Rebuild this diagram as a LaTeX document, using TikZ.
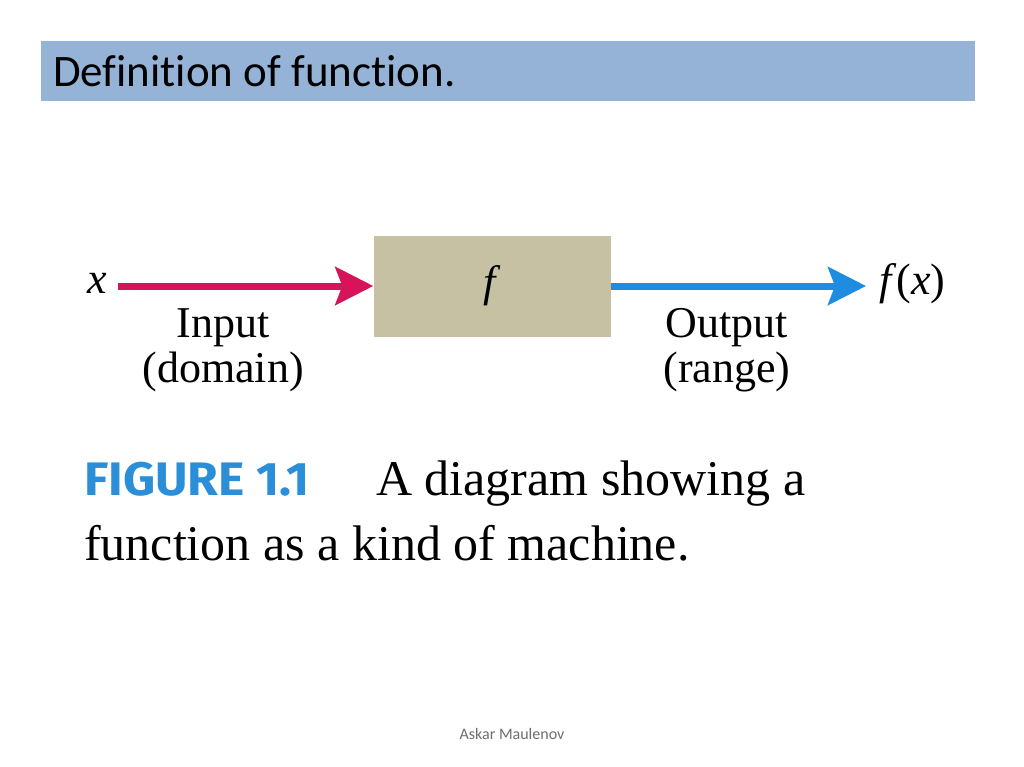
\documentclass[tikz,border=0pt]{standalone}
\usepackage{fontspec}
\setmainfont{Liberation Serif}
\newfontfamily\calib[Ligatures=NoCommon]{Carlito}
\newfontfamily\figfont[FakeStretch=1.06]{Fira Sans}
\usetikzlibrary{arrows.meta}
\definecolor{titlebar}{RGB}{149,179,215}
\definecolor{boxfill}{RGB}{197,193,162}
\definecolor{inred}{RGB}{214,20,90}
\definecolor{outblue}{RGB}{30,140,225}
\definecolor{figblue}{RGB}{43,142,216}
\definecolor{footgray}{RGB}{110,110,110}
\tikzset{
  lbl/.style={font=\fontsize{44}{45}\selectfont, align=center, inner sep=0pt},
  machine/.style={fill=boxfill, minimum width=237pt, minimum height=101pt, inner sep=0pt},
  bigarrow/.style={line width=7pt, -{Stealth[length=38pt,width=38pt,inset=7pt]}},
}
\begin{document}
\begin{tikzpicture}[x=1pt,y=-1pt]
\useasboundingbox[fill=white] (0,0) rectangle (1024,767);
\node[fill=titlebar, minimum width=934pt, minimum height=60pt, inner sep=0pt, anchor=north west] (title) at (41,41) {};
\node[anchor=west, font=\calib\fontsize{45}{45}\selectfont, inner sep=0pt] (ttext) at (53,71) {Definition of function.};
\node[machine, font=\fontsize{44}{44}\selectfont] (f) at (492,286) {\textit{f}};
\node[font=\fontsize{44}{44}\selectfont, inner sep=0pt] (x) at (97,283) {\textit{x}};
\node[font=\fontsize{44}{44}\selectfont, inner sep=0pt, anchor=west] (fx) at (879,284) {\textit{f}(\textit{x})};
\coordinate (xs) at (118,286);
\coordinate (fe) at (866,286);
\draw[bigarrow, draw=inred, fill=inred] (xs) -- (f.west);
\draw[bigarrow, draw=outblue, fill=outblue] (f.east) -- (fe);
\node[lbl, anchor=base] (in1) at (223,337) {Input};
\node[lbl, anchor=base] (in2) at (223,382) {(domain)};
\node[lbl, anchor=base] (out1) at (727,337) {Output};
\node[lbl, anchor=base] (out2) at (727,382) {(range)};
\node[anchor=base west, inner sep=0pt, font=\figfont\bfseries\fontsize{47}{47}\selectfont, text=figblue] (fig) at (84,495) {FIGURE 1.1};
\node[anchor=base west, inner sep=0pt, font=\fontsize{50}{50}\selectfont] (cap1) at (376,495) {A diagram showing a};
\node[anchor=base west, inner sep=0pt, font=\fontsize{50}{50}\selectfont] (cap2) at (84,560) {function as a kind of machine.};
\node[font=\calib\fontsize{16}{16}\selectfont, text=footgray, inner sep=0pt] (foot) at (512,734) {Askar Maulenov};
\end{tikzpicture}
\end{document}
